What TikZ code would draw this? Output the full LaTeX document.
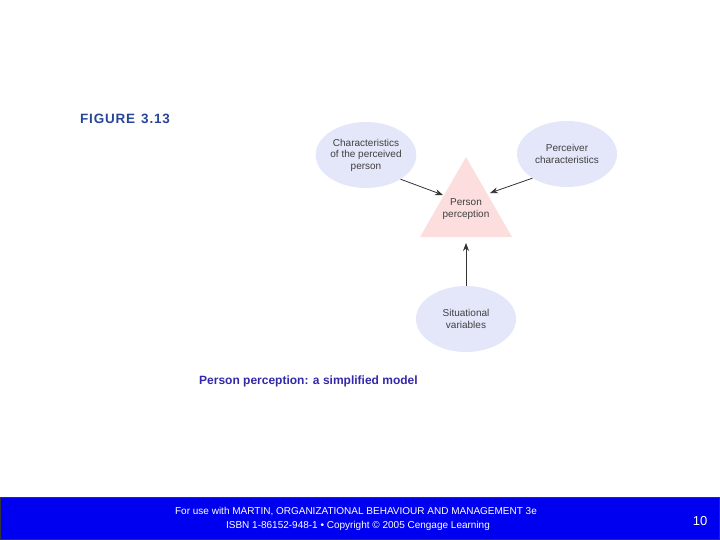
\documentclass[tikz,border=0pt]{standalone}
\usepackage{fontspec}
\setmainfont{Liberation Sans}
\usetikzlibrary{arrows.meta,shapes.geometric}
\definecolor{ell}{RGB}{228,230,250}
\definecolor{tri}{RGB}{252,222,222}
\definecolor{band}{RGB}{0,0,240}
\definecolor{fig}{RGB}{40,70,150}
\definecolor{cap}{RGB}{50,40,170}
\tikzset{
 el/.style={ellipse,fill=ell,minimum width=100pt,minimum height=66pt,inner sep=0pt,align=center,font=\fontsize{10}{11.5}\selectfont,text=black!75},
 ar/.style={-{Stealth[length=8pt,width=6pt]},draw=black!80,line width=0.8pt},
 foot/.style={text=white,font=\fontsize{10}{11}\selectfont}
}
\begin{document}
\begin{tikzpicture}[x=1pt,y=-1pt]
\useasboundingbox (0,0) rectangle (720,540);
\fill[band] (0,497) rectangle (720,540);
\draw[black!80,line width=1pt] (0.5,497) rectangle (719.5,539.5);
\node[foot,anchor=center] (f1) at (356,512) {For use with MARTIN, ORGANIZATIONAL BEHAVIOUR AND MANAGEMENT 3e};
\node[foot,anchor=center] (f2) at (358,526) {ISBN 1-86152-948-1 \textbullet\ Copyright © 2005 Cengage Learning};
\node[text=white,font=\fontsize{13}{14}\selectfont] (pg) at (700,521) {10};
\node[anchor=west,inner sep=0pt,text=fig,font=\bfseries\fontsize{13.5}{16}\selectfont] (fig) at (80,119) {F\kern0.8pt I\kern0.8pt G\kern0.8pt U\kern0.8pt R\kern0.8pt E\ \,3\kern0.8pt .\kern0.8pt 1\kern0.8pt 3};
\node[anchor=west,inner sep=0pt,text=cap,font=\bfseries\fontsize{12}{14}\selectfont] (cap) at (199,381) {Person perception: a simplified model};
\node[el] (a) at (366,155) {Characteristics\\of the perceived\\person};
\node[el] (b) at (567,154) {Perceiver\\characteristics};
\node[el] (c) at (466,319) {Situational\\variables};
\fill[tri] (466,157) -- (512,237) -- (420,237) -- cycle;
\coordinate (t1) at (443,195);
\coordinate (t2) at (490,193);
\coordinate (t3) at (466,243);
\node[align=center,font=\fontsize{10}{11.5}\selectfont,text=black!75] (p) at (466,209) {Person\\perception};
\draw[ar] (a.-35) -- (t1);
\draw[ar] (b.-145) -- (t2);
\draw[ar] (c.north) -- (t3);
\end{tikzpicture}
\end{document}
